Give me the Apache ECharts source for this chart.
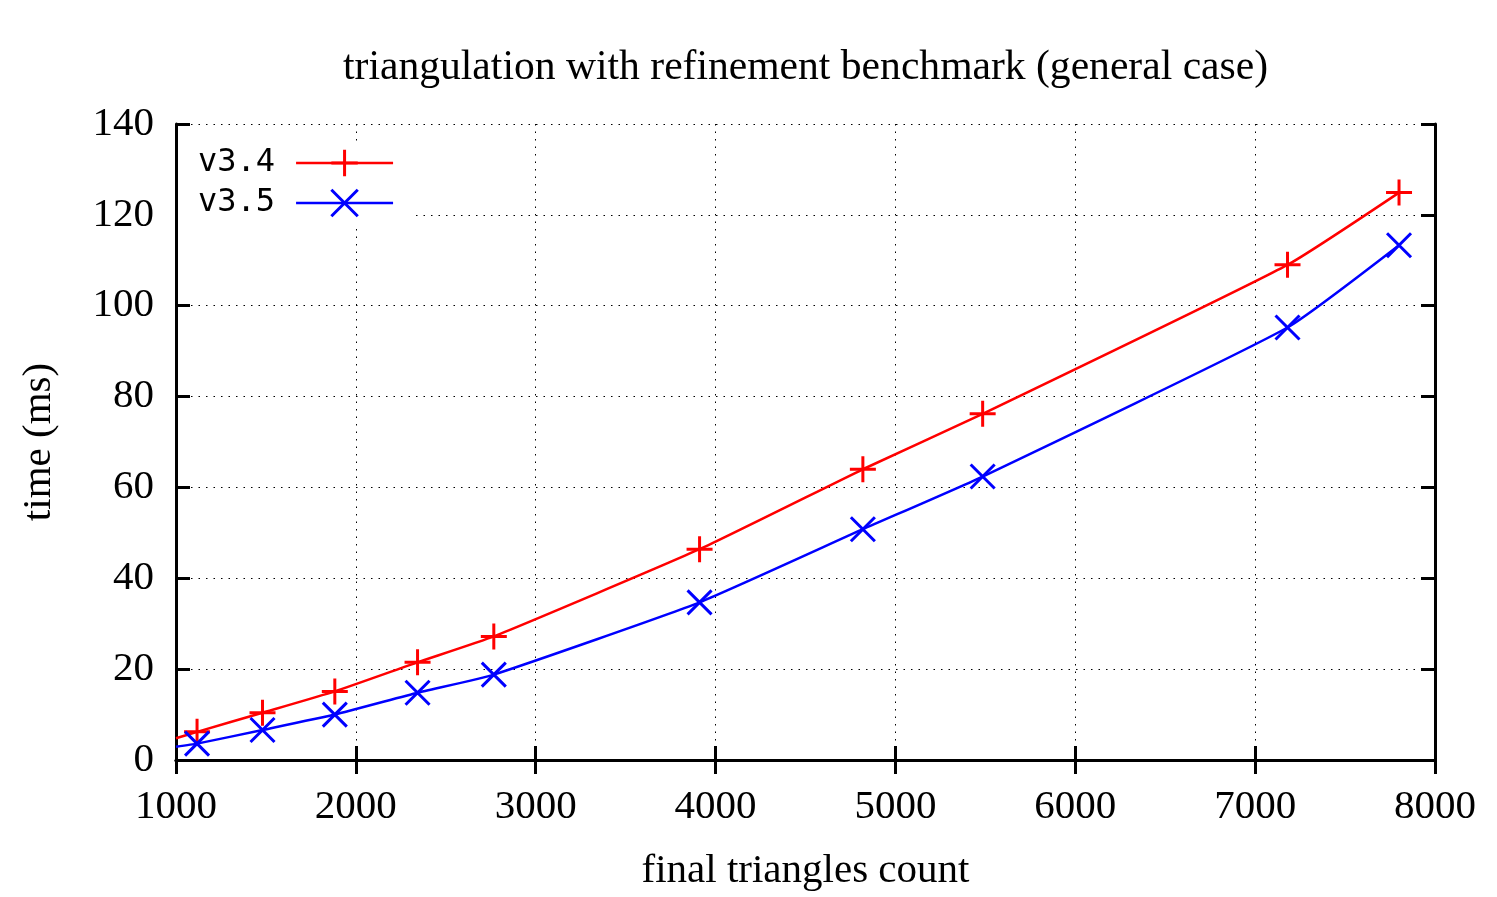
<!DOCTYPE html>
<html>
<head>
<meta charset="utf-8">
<script src="https://cdn.jsdelivr.net/npm/echarts@6/dist/echarts.min.js"></script>
<style>
html,body{margin:0;padding:0;background:#fff;}
#chart{width:1497px;height:897px;}
</style>
</head>
<body>
<div id="chart"></div>
<script>
const titleText = 'triangulation with refinement benchmark (general case)';
const xName = 'final triangles count';
const yName = 'time (ms)';
const seriesNames = ['v3.4', 'v3.5'];
// leading line-only point at the left edge of the plot, then the measured points
const lineStartX = 1000;
const lineStartV34 = 4.8;
const lineStartV35 = 2.9;
const counts = [1117, 1481, 1883, 2343, 2767, 3911, 4819, 5485, 7180, 7800];
const timesV34 = [6.2, 10.4, 15.1, 21.5, 27.2, 46.4, 64.0, 76.2, 109.0, 124.9];
const timesV35 = [3.6, 6.6, 10.0, 14.8, 18.8, 34.7, 50.8, 62.4, 95.2, 113.3];
const xMin = 1000, xMax = 8000, xStep = 1000;
const yMin = 0, yMax = 140, yStep = 20;

const serif = 'Liberation Serif';
const mono = 'DejaVu Sans Mono';
const plusPath = 'path://M0,5L10,5M5,0L5,10';
const crossPath = 'path://M0,0L10,10M10,0L0,10';

function buildData(x0, y0, xs, ys) {
  const d = [{ value: [x0, y0], symbol: 'none' }];
  xs.forEach((x, i) => d.push([x, ys[i]]));
  return d;
}

const chart = echarts.init(document.getElementById('chart'), null, { renderer: 'canvas' });

const gridLine = { show: true, lineStyle: { color: '#000', width: 1, type: [1.5, 6] } };
const tick = { show: true, inside: true, length: 14, lineStyle: { color: '#000', width: 3 } };
const axLine = { show: true, lineStyle: { color: '#000', width: 3 } };
const fs = 41;

chart.setOption({
  animation: false,
  backgroundColor: '#fff',
  title: {
    text: titleText,
    left: 338,
    top: 42,
    textStyle: { fontFamily: serif, fontSize: 41.6, fontWeight: 'normal', color: '#000' }
  },
  grid: { left: 176, right: 62, top: 124, bottom: 133, containLabel: false },
  legend: {
    orient: 'vertical',
    align: 'right',
    left: 178,
    top: 141,
    padding: [6, 16, 6, 20],
    itemWidth: 97,
    itemHeight: 33,
    itemGap: 8,
    backgroundColor: '#fff',
    itemStyle: { borderWidth: 3 },
    lineStyle: { width: 2.5 },
    textStyle: { fontFamily: mono, fontSize: 32, color: '#000', padding: [0, 16, 0, 0] },
    data: seriesNames
  },
  xAxis: [{
    type: 'value', min: xMin, max: xMax, interval: xStep,
    name: xName, nameLocation: 'middle', nameGap: 91,
    nameTextStyle: { fontFamily: serif, fontSize: fs, color: '#000' },
    axisLine: axLine, axisTick: tick, splitLine: gridLine,
    axisLabel: { fontFamily: serif, fontSize: fs, color: '#000', margin: 27, formatter: v => String(v) }
  }, {
    type: 'value', min: xMin, max: xMax, interval: xStep, position: 'top',
    axisLine: axLine, axisTick: tick, splitLine: { show: false }, axisLabel: { show: false }
  }],
  yAxis: [{
    type: 'value', min: yMin, max: yMax, interval: yStep,
    name: yName, nameLocation: 'middle', nameGap: 116,
    nameTextStyle: { fontFamily: serif, fontSize: fs, color: '#000' },
    axisLine: axLine, axisTick: tick, splitLine: gridLine,
    axisLabel: { fontFamily: serif, fontSize: fs, color: '#000', margin: 22, formatter: v => String(v) }
  }, {
    type: 'value', min: yMin, max: yMax, interval: yStep, position: 'right',
    axisLine: axLine, axisTick: tick, splitLine: { show: false }, axisLabel: { show: false }
  }],
  series: [{
    name: seriesNames[0], type: 'line', smooth: 0.15,
    data: buildData(lineStartX, lineStartV34, counts, timesV34),
    symbol: plusPath, symbolSize: 26, showAllSymbol: true,
    itemStyle: { color: '#ff0000', borderColor: '#ff0000', borderWidth: 3 },
    lineStyle: { color: '#ff0000', width: 2.5 },
    z: 3
  }, {
    name: seriesNames[1], type: 'line', smooth: 0.15,
    data: buildData(lineStartX, lineStartV35, counts, timesV35),
    symbol: crossPath, symbolSize: 24, showAllSymbol: true,
    itemStyle: { color: '#0000ff', borderColor: '#0000ff', borderWidth: 3 },
    lineStyle: { color: '#0000ff', width: 2.5 },
    z: 3
  }]
});
</script>
</body>
</html>
